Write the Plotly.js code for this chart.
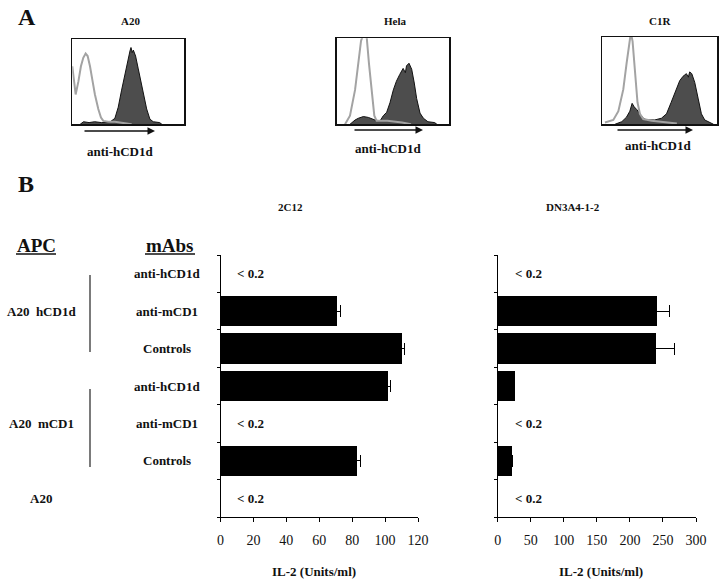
<!DOCTYPE html>
<html>
<head>
<meta charset="utf-8">
<script src="https://cdn.plot.ly/plotly-3.0.1.min.js"></script>
<style>html,body{margin:0;padding:0;background:#fff}#chart{width:720px;height:582px}</style>
</head>
<body>
<div id="chart"></div>
<script>
// ---------- Panel A: flow cytometry histograms (fraction of box width / height) ----------
const histTitles = ["A20", "Hela", "C1R"];
const histXLabel = "anti-hCD1d";

const a20IsoX = [0, 0.012, 0.03, 0.054, 0.077, 0.098, 0.119, 0.137, 0.158, 0.179, 0.202, 0.232, 0.256, 0.277, 0.32, 0.38, 0.47, 0.53];
const a20IsoY = [0.68, 0.55, 0.35, 0.5, 0.68, 0.78, 0.83, 0.8, 0.68, 0.52, 0.35, 0.18, 0.08, 0.04, 0.03, 0.03, 0.01, 0];
const a20StainX = [0.07, 0.1, 0.15, 0.2, 0.26, 0.33, 0.38, 0.41, 0.44, 0.47, 0.5, 0.515, 0.524, 0.535, 0.545, 0.565, 0.589, 0.613, 0.637, 0.664, 0.693, 0.723, 0.78, 0.8];
const a20StainY = [0, 0.03, 0.02, 0.03, 0.02, 0.02, 0.07, 0.2, 0.4, 0.6, 0.8, 0.86, 0.9, 0.84, 0.87, 0.8, 0.65, 0.5, 0.35, 0.18, 0.06, 0.03, 0.02, 0];

const helaIsoX = [0.074, 0.118, 0.163, 0.192, 0.216, 0.237, 0.266, 0.287, 0.311, 0.334, 0.355, 0.45, 0.58, 0.66];
const helaIsoY = [0, 0.1, 0.4, 0.75, 0.97, 1.05, 1.02, 0.7, 0.35, 0.1, 0.04, 0.04, 0.02, 0];
const helaStainX = [0.118, 0.163, 0.192, 0.237, 0.281, 0.34, 0.385, 0.414, 0.444, 0.473, 0.503, 0.53, 0.56, 0.59, 0.61, 0.62, 0.642, 0.655, 0.666, 0.689, 0.71, 0.74, 0.77, 0.81, 0.87, 0.89];
const helaStainY = [0, 0.05, 0.07, 0.09, 0.08, 0.05, 0.04, 0.1, 0.14, 0.25, 0.4, 0.5, 0.58, 0.65, 0.6, 0.68, 0.71, 0.66, 0.64, 0.48, 0.3, 0.13, 0.07, 0.03, 0.02, 0];

const c1rIsoX = [0.023, 0.096, 0.14, 0.183, 0.212, 0.232, 0.249, 0.264, 0.278, 0.293, 0.307, 0.328, 0.357, 0.43, 0.516, 0.574, 0.65];
const c1rIsoY = [0.02, 0.05, 0.15, 0.4, 0.7, 0.9, 1.05, 0.95, 0.7, 0.45, 0.25, 0.12, 0.06, 0.04, 0.03, 0.02, 0.01];
const c1rStainX = [0.11, 0.17, 0.21, 0.24, 0.26, 0.278, 0.3, 0.328, 0.357, 0.386, 0.458, 0.516, 0.56, 0.6, 0.646, 0.675, 0.704, 0.733, 0.75, 0.762, 0.78, 0.806, 0.835, 0.864, 0.893, 0.936, 0.97];
const c1rStainY = [0, 0.03, 0.08, 0.15, 0.24, 0.2, 0.17, 0.12, 0.07, 0.05, 0.05, 0.07, 0.12, 0.25, 0.4, 0.5, 0.55, 0.58, 0.54, 0.6, 0.58, 0.48, 0.3, 0.12, 0.05, 0.02, 0];

// ---------- Panel B: IL-2 bar charts ----------
const responders = ["2C12", "DN3A4-1-2"];
const mAbRows = ["anti-hCD1d", "anti-mCD1", "Controls", "anti-hCD1d", "anti-mCD1", "Controls", ""];
const apcGroups = ["A20  hCD1d", "A20  mCD1", "A20"];
const apcGroupRows = [1, 4, 6];
const il2_2C12 = [null, 71, 110, 102, null, 83, null];
const err_2C12 = [0, 2, 1.5, 1.5, 0, 2, 0];
const il2_DN = [null, 241, 239, 26, null, 21, null];
const err_DN = [0, 19, 28, 0, 0, 2, 0];
const belowLabel = "< 0.2";
const ticks2C12 = [0, 20, 40, 60, 80, 100, 120];
const ticksDN = [0, 50, 100, 150, 200, 250, 300];
const xTitle = "IL-2 (Units/ml)";

// ---------- helpers ----------
const W = 720, H = 582;
const px = x => x / W;
const py = y => 1 - y / H;
const serif = "'Liberation Serif', 'Times New Roman', serif";
const rowIdx = mAbRows.map((_, i) => i);

const traces = [];
const histSets = [
  [a20StainX, a20StainY, a20IsoX, a20IsoY],
  [helaStainX, helaStainY, helaIsoX, helaIsoY],
  [c1rStainX, c1rStainY, c1rIsoX, c1rIsoY]
];
histSets.forEach((s, i) => {
  const ax = i === 0 ? '' : String(i + 1);
  traces.push({x: s[0], y: s[1], xaxis: 'x' + ax, yaxis: 'y' + ax, type: 'scatter', mode: 'lines',
    fill: 'tozeroy', fillcolor: '#4d4d4d', line: {color: '#111', width: 1}, hoverinfo: 'skip'});
  traces.push({x: s[2], y: s[3], xaxis: 'x' + ax, yaxis: 'y' + ax, type: 'scatter', mode: 'lines',
    line: {color: '#a3a3a3', width: 2}, hoverinfo: 'skip'});
});

traces.push({type: 'bar', orientation: 'h', x: il2_2C12, y: rowIdx, xaxis: 'x4', yaxis: 'y4',
  width: 0.81, marker: {color: '#000'},
  error_x: {type: 'data', array: err_2C12, visible: true, color: '#000', thickness: 1, width: 6}});
traces.push({type: 'bar', orientation: 'h', x: il2_DN, y: rowIdx, xaxis: 'x5', yaxis: 'y5',
  width: 0.81, marker: {color: '#000'},
  error_x: {type: 'data', array: err_DN, visible: true, color: '#000', thickness: 1, width: 6}});

const boxAxis = (dom) => ({domain: dom, range: [0, 1], showline: true, mirror: true, linecolor: '#111', linewidth: 1.5,
  showgrid: false, zeroline: false, showticklabels: false, ticks: '', fixedrange: true});

const barY = {domain: [py(517), py(255)], range: [6.5, -0.5], showline: true, linecolor: '#000', linewidth: 1,
  showgrid: false, zeroline: false, showticklabels: false, ticks: 'outside', ticklen: 3, tickcolor: '#000',
  tickvals: [-0.5, 0.5, 1.5, 2.5, 3.5, 4.5, 5.5, 6.5]};
const barX = (dom, rng, tv) => ({domain: dom, range: rng, showline: true, linecolor: '#000', linewidth: 1,
  showgrid: false, zeroline: false, ticks: 'outside', ticklen: 4, tickcolor: '#000', tickvals: tv,
  ticklabelstandoff: 6, tickfont: {family: serif, size: 14, color: '#111'}});

const layout = {
  width: W, height: H, margin: {l: 0, r: 0, t: 0, b: 0}, paper_bgcolor: '#fff', plot_bgcolor: 'rgba(0,0,0,0)',
  showlegend: false, bargap: 0,
  xaxis: Object.assign(boxAxis([px(72.3), px(184.3)]), {anchor: 'y'}),
  yaxis: Object.assign(boxAxis([py(124.3), py(39)]), {anchor: 'x'}),
  xaxis2: Object.assign(boxAxis([px(336.7), px(449.3)]), {anchor: 'y2'}),
  yaxis2: Object.assign(boxAxis([py(124.3), py(38.3)]), {anchor: 'x2'}),
  xaxis3: Object.assign(boxAxis([px(602.3), px(717)]), {anchor: 'y3'}),
  yaxis3: Object.assign(boxAxis([py(124.3), py(37)]), {anchor: 'x3'}),
  xaxis4: Object.assign(barX([px(220.5), px(418)], [0, 120], ticks2C12), {anchor: 'y4'}),
  yaxis4: Object.assign({}, barY, {anchor: 'x4'}),
  xaxis5: Object.assign(barX([px(497.7), px(696)], [0, 300], ticksDN), {anchor: 'y5'}),
  yaxis5: Object.assign({}, barY, {anchor: 'x5'}),
  annotations: [], shapes: []
};

const ann = (o) => layout.annotations.push(Object.assign({showarrow: false, xref: 'paper', yref: 'paper',
  font: {family: serif, size: 13, color: '#111'}}, o));

// panel letters
ann({text: '<b>A</b>', x: px(16), y: py(17), xanchor: 'left', yanchor: 'middle', font: {family: serif, size: 24, color: '#111'}});
ann({text: '<b>B</b>', x: px(16), y: py(184), xanchor: 'left', yanchor: 'middle', font: {family: serif, size: 24, color: '#111'}});

// histogram titles, x labels, arrows
const histCenters = [130, 395, 660];
const histLabelX = [120, 388, 658];
const histLabelY = [152, 148, 145];
const arrows = [[83, 155, 131], [353, 423, 130], [616, 693, 130]];
histTitles.forEach((t, i) => {
  ann({text: '<b>' + t + '</b>', x: px(histCenters[i]), y: py(21), xanchor: 'center', yanchor: 'middle', font: {family: serif, size: 11, color: '#111'}});
  ann({text: '<b>' + histXLabel + '</b>', x: px(histLabelX[i]), y: py(histLabelY[i]), xanchor: 'center', yanchor: 'middle', font: {family: serif, size: 13, color: '#111'}});
  const a = arrows[i];
  layout.annotations.push({x: px(a[1]), y: py(a[2]), xref: 'paper', yref: 'paper', text: '', showarrow: true,
    ax: -(a[1] - a[0]), ay: 0, arrowhead: 2, arrowsize: 1, arrowwidth: 1.5, arrowcolor: '#111'});
});

// Panel B headers
ann({text: '<b>APC</b>', x: px(36), y: py(245), xanchor: 'center', yanchor: 'middle', font: {family: serif, size: 19, color: '#111'}});
ann({text: '<b>mAbs</b>', x: px(170), y: py(245), xanchor: 'center', yanchor: 'middle', font: {family: serif, size: 19, color: '#111'}});
layout.shapes.push({type: 'line', xref: 'paper', yref: 'paper', x0: px(16), x1: px(56), y0: py(254), y1: py(254), line: {color: '#111', width: 1.5}});
layout.shapes.push({type: 'line', xref: 'paper', yref: 'paper', x0: px(145), x1: px(195), y0: py(254), y1: py(254), line: {color: '#111', width: 1.5}});

responders.forEach((r, i) => {
  ann({text: '<b>' + r + '</b>', x: px(i === 0 ? 290 : 573), y: py(207), xanchor: 'center', yanchor: 'middle', font: {family: serif, size: 11, color: '#111'}});
  ann({text: '<b>' + xTitle + '</b>', x: px(i === 0 ? 314 : 601), y: py(571), xanchor: 'center', yanchor: 'middle', font: {family: serif, size: 13, color: '#111'}});
});

// mAb row labels
mAbRows.forEach((m, i) => {
  if (!m) return;
  ann({text: '<b>' + m + '</b>', x: px(167), xref: 'paper', y: i, yref: 'y4', xanchor: 'center', yanchor: 'middle'});
});
// APC group labels + brackets
apcGroups.forEach((g, k) => {
  ann({text: '<b>' + g + '</b>', x: px(41), y: apcGroupRows[k], yref: 'y4', xanchor: 'center', yanchor: 'middle'});
});
layout.shapes.push({type: 'line', xref: 'paper', yref: 'paper', x0: px(90), x1: px(90), y0: py(275), y1: py(352), line: {color: '#222', width: 1.2}});
layout.shapes.push({type: 'line', xref: 'paper', yref: 'paper', x0: px(90), x1: px(90), y0: py(389), y1: py(467), line: {color: '#222', width: 1.2}});

// below detection labels
il2_2C12.forEach((v, i) => {
  if (v === null) ann({text: '<b>' + belowLabel + '</b>', xref: 'x4', x: 9, yref: 'y4', y: i, xanchor: 'left', yanchor: 'middle'});
});
il2_DN.forEach((v, i) => {
  if (v === null) ann({text: '<b>' + belowLabel + '</b>', xref: 'x5', x: 23, yref: 'y5', y: i, xanchor: 'left', yanchor: 'middle'});
});

Plotly.newPlot('chart', traces, layout, {staticPlot: true, displayModeBar: false});
</script>
</body>
</html>
